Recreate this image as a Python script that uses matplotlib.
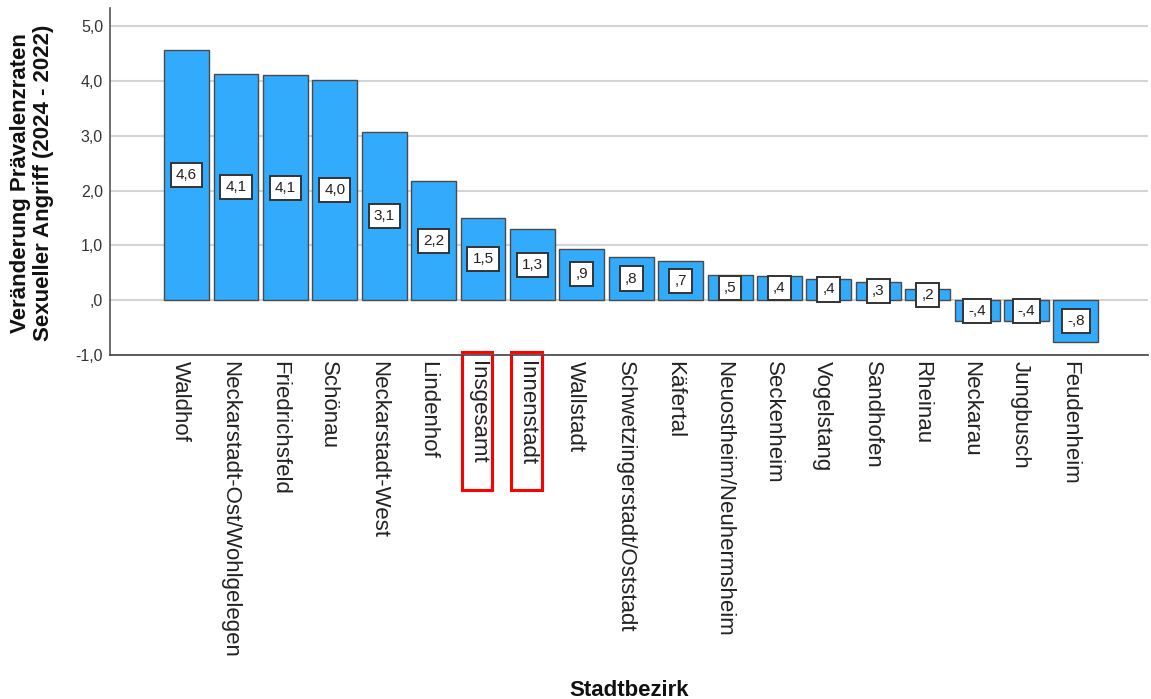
import matplotlib
matplotlib.use("Agg")
import matplotlib.pyplot as plt
import matplotlib.transforms as mtransforms
from matplotlib.patches import Rectangle
import numpy as np

plt.rcParams['font.family'] = ['Liberation Sans', 'DejaVu Sans']

# Data
districts = ["Waldhof", "Neckarstadt-Ost/Wohlgelegen", "Friedrichsfeld", "Schönau",
             "Neckarstadt-West", "Lindenhof", "Insgesamt", "Innenstadt", "Wallstadt",
             "Schwetzingerstadt/Oststadt", "Käfertal", "Neuostheim/Neuhermsheim",
             "Seckenheim", "Vogelstang", "Sandhofen", "Rheinau", "Neckarau",
             "Jungbusch", "Feudenheim"]
change = [4.56, 4.12, 4.10, 4.01, 3.07, 2.17, 1.50, 1.30, 0.94, 0.79, 0.71,
          0.46, 0.44, 0.39, 0.33, 0.20, -0.38, -0.38, -0.77]
highlighted = ["Insgesamt", "Innenstadt"]
y_ticks = [-1.0, 0.0, 1.0, 2.0, 3.0, 4.0, 5.0]


def spss_fmt(v):
    # SPSS style: comma decimal, no leading zero
    s = "{:.1f}".format(v).replace(".", ",")
    if s.startswith("0,"):
        s = s[1:]
    elif s.startswith("-0,"):
        s = "-" + s[2:]
    return s


fig = plt.figure(figsize=(11.51, 6.99), dpi=100)
ax = fig.add_axes([110 / 1151, 1 - 355 / 699, 1038 / 1151, 347 / 699])

x = np.arange(len(districts))
ax.bar(x, change, width=0.91, color="#33ABFD", edgecolor="#4a4a4a", linewidth=1.0, zorder=3)

for xi, v in zip(x, change):
    ax.text(xi, v / 2, spss_fmt(v), ha="center", va="center", fontsize=11, color="#222222",
            zorder=4, bbox=dict(boxstyle="square,pad=0.33", facecolor="white",
                                edgecolor="#333333", linewidth=1.4))

ax.set_xlim(-1.55, len(districts) + 0.46)
ax.set_ylim(-1.0, 5.33)
ax.set_yticks(y_ticks)
ax.set_yticklabels([spss_fmt(t) for t in y_ticks], fontsize=11.5, color="#333333")
ax.yaxis.grid(True, color="#d4d4d4", linewidth=1.5, zorder=0)
ax.tick_params(axis="y", length=0, pad=5)

ax.set_xticks(x)
ax.set_xticklabels(districts, rotation=-90, fontsize=16, color="#222222", va="top", ha="center")
ax.tick_params(axis="x", length=0, pad=4)
# nudge the rotated labels a few pixels left so they sit centred under the bars
shift = mtransforms.ScaledTranslation(-6 / 100, 0, fig.dpi_scale_trans)
for lbl in ax.get_xticklabels():
    lbl.set_transform(lbl.get_transform() + shift)

for s in ["top", "right"]:
    ax.spines[s].set_visible(False)
ax.spines["left"].set_color("#555555")
ax.spines["bottom"].set_color("#444444")
ax.spines["left"].set_linewidth(1.2)
ax.spines["bottom"].set_linewidth(1.2)

# red highlight boxes around two labels
trans = mtransforms.blended_transform_factory(ax.transData, fig.transFigure)
for name in highlighted:
    i = districts.index(name)
    ax.add_patch(Rectangle((i - 0.12 - 0.31, 1 - 490 / 699), 0.62, 138 / 699, transform=trans,
                           fill=False, edgecolor="#ff0000", linewidth=2.2, clip_on=False))

fig.text(629 / 1151, 1 - 690 / 699, "Stadtbezirk", ha="center", va="center",
         fontsize=16, fontweight="bold", color="#111111")
fig.text(32 / 1151, 1 - 183 / 699, "Veränderung Prävalenzraten\nSexueller Angriff (2024 - 2022)",
         ha="center", va="center", rotation=90, fontsize=16, fontweight="bold",
         color="#111111", multialignment="center", linespacing=1.1)

plt.savefig("out.png", dpi=100)
